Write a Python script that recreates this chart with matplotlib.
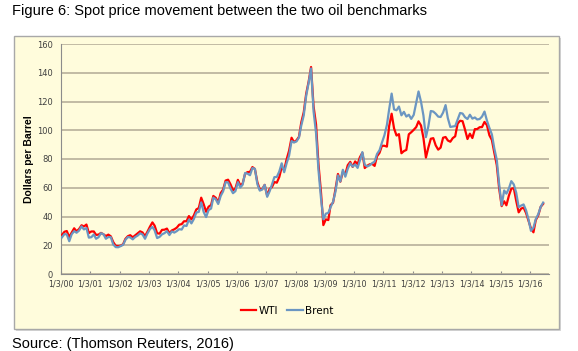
import datetime as dt

import matplotlib
matplotlib.use("Agg")
import matplotlib.pyplot as plt
import matplotlib.dates as mdates
from matplotlib.patches import Rectangle

# monthly readings (mid-month), Jan 2000 .. Jun 2016, USD per barrel
wti = [
    27.2, 29.4, 29.9, 25.7, 28.8, 31.8, 29.7, 31.3, 33.9, 33.1, 34.4, 28.5,  # 2000
    29.6, 29.6, 27.2, 27.4, 28.6, 27.6, 26.4, 27.4, 26.2, 22.2, 19.6, 19.4,  # 2001
    19.7, 20.7, 24.4, 26.3, 27.0, 25.5, 26.9, 28.4, 29.7, 28.9, 26.3, 29.4,  # 2002
    32.9, 35.9, 33.6, 28.3, 28.1, 30.7, 30.8, 31.6, 28.3, 30.3, 31.1, 32.2,  # 2003
    34.3, 34.7, 36.7, 36.7, 40.3, 38.0, 40.7, 44.9, 45.9, 53.1, 48.5, 43.3,  # 2004
    46.8, 48.0, 54.3, 53.0, 49.8, 56.3, 58.7, 65.0, 65.6, 62.4, 58.3, 59.4,  # 2005
    65.5, 61.6, 62.9, 69.7, 70.9, 71.0, 74.4, 73.0, 63.8, 58.9, 59.1, 62.0,  # 2006
    54.5, 59.3, 60.4, 64.0, 63.5, 67.5, 74.1, 72.4, 79.9, 85.8, 94.8, 91.7,  # 2007
    93.0, 95.4, 105.5, 112.6, 125.4, 133.9, 144.0, 116.7, 104.1, 76.6, 57.3, 34.0,  # 2008
    38.0, 37.5, 47.9, 49.6, 59.0, 69.6, 64.2, 71.1, 69.4, 75.7, 78.0, 74.5,  # 2009
    78.3, 76.4, 81.2, 84.3, 73.7, 75.3, 76.3, 76.6, 75.2, 81.9, 84.3, 89.2,  # 2010
    89.2, 88.6, 102.9, 111.5, 101.3, 96.3, 97.3, 84.0, 85.5, 86.3, 97.2, 98.6,  # 2011
    100.3, 102.2, 106.2, 103.3, 94.7, 81.0, 87.9, 94.1, 94.5, 89.5, 86.5, 87.9,  # 2012
    94.8, 95.3, 92.9, 92.0, 94.5, 95.8, 104.6, 106.6, 106.3, 100.5, 93.9, 97.6,  # 2013
    94.6, 100.8, 100.8, 102.1, 102.2, 105.8, 103.6, 96.5, 93.2, 84.4, 75.8, 59.3,  # 2014
    47.2, 50.6, 47.8, 54.5, 59.3, 59.8, 50.9, 42.9, 45.5, 46.2, 42.4, 37.2,  # 2015
    31.7, 29.0, 37.5, 40.8, 46.7, 48.8,  # 2016
]
brent = [
    25.5, 27.8, 27.5, 22.8, 27.6, 29.8, 28.7, 30.2, 33.1, 31.0, 32.0, 25.3,  # 2000
    25.6, 27.5, 24.5, 25.6, 28.4, 27.7, 24.5, 25.7, 25.6, 20.5, 18.7, 18.6,  # 2001
    19.4, 20.3, 23.7, 25.7, 25.4, 24.1, 25.7, 26.7, 28.3, 27.5, 24.5, 28.2,  # 2002
    31.2, 32.8, 30.3, 25.0, 25.8, 27.6, 28.4, 29.8, 27.1, 29.6, 28.8, 29.8,  # 2003
    31.2, 30.9, 33.8, 33.4, 37.9, 35.2, 38.2, 42.7, 43.2, 49.8, 43.1, 39.6,  # 2004
    44.5, 45.5, 53.1, 51.9, 48.7, 54.3, 57.5, 63.9, 63.7, 59.4, 56.2, 57.6,  # 2005
    63.9, 60.2, 62.1, 70.3, 69.8, 68.7, 73.7, 73.2, 62.5, 58.0, 58.8, 62.0,  # 2006
    53.7, 57.6, 62.1, 67.4, 67.5, 71.3, 77.0, 70.8, 77.2, 82.3, 92.5, 91.5,  # 2007
    92.2, 94.9, 103.3, 110.4, 123.9, 133.1, 143.0, 113.2, 98.0, 72.5, 53.0, 38.0,  # 2008
    42.0, 42.5, 46.5, 50.2, 57.3, 68.6, 64.4, 72.5, 67.7, 73.2, 77.0, 74.7,  # 2009
    76.2, 73.8, 78.8, 84.8, 75.9, 74.8, 75.6, 77.1, 78.2, 83.5, 86.1, 91.4,  # 2010
    96.5, 103.7, 114.6, 125.5, 114.5, 113.9, 116.5, 110.4, 112.8, 109.5, 110.8, 107.9,  # 2011
    110.7, 119.3, 127.0, 119.8, 110.3, 95.2, 102.6, 113.4, 113.0, 111.5, 109.5, 109.2,  # 2012
    112.3, 117.5, 108.5, 102.3, 102.6, 102.9, 107.4, 112.0, 111.6, 109.1, 107.8, 110.8,  # 2013
    108.1, 108.9, 107.5, 107.8, 109.5, 113.0, 106.8, 101.6, 97.1, 87.4, 79.4, 62.3,  # 2014
    47.8, 58.1, 55.9, 59.5, 64.6, 62.3, 56.6, 46.5, 47.6, 48.4, 44.3, 38.0,  # 2015
    30.0, 32.2, 38.2, 41.6, 46.7, 49.7,  # 2016
]
dates = [dt.date(2000 + i // 12, i % 12 + 1, 15) for i in range(len(wti))]
tick_dates = [dt.date(y, 1, 3) for y in range(2000, 2017)]
tick_labels = [d.strftime("1/3/%y") for d in tick_dates]
y_ticks = list(range(0, 161, 20))

CREAM = "#fffcdc"
GRID = "#b8b09a"

fig = plt.figure(figsize=(5.78, 3.51), dpi=100)
fig.patch.set_facecolor("white")

# chart panel with border + soft shadow
fig.patches.append(Rectangle((16 / 578, 1 - 331 / 351), 545 / 578, 293 / 351,
                             transform=fig.transFigure, facecolor="#d8d8d8",
                             edgecolor="none", zorder=-2))
fig.patches.append(Rectangle((14 / 578, 1 - 329 / 351), 545 / 578, 293 / 351,
                             transform=fig.transFigure, facecolor=CREAM,
                             edgecolor="#a8a8a8", linewidth=1.0, zorder=-1))

ax = fig.add_axes([61 / 578, 1 - 274 / 351, 488 / 578, 230 / 351])
ax.set_zorder(2)
ax.set_facecolor(CREAM)
ax.patch.set_alpha(0)

ax.plot(dates, wti, color="#ff0000", linewidth=1.6, label="WTI", zorder=3)
ax.plot(dates, brent, color="#6b96c2", linewidth=1.6, label="Brent", zorder=4)

x0 = mdates.date2num(dt.date(2000, 1, 3))
px_year = (mdates.date2num(dt.date(2016, 1, 3)) - x0) / (530 - 61)
ax.set_xlim(x0, x0 + px_year * (549 - 61))
ax.set_ylim(0, 160)
ax.set_yticks(y_ticks)
ax.set_xticks(tick_dates)
ax.set_xticklabels(tick_labels)
ax.yaxis.grid(True, color=GRID, linewidth=1.2)
ax.set_axisbelow(True)
for s in ("top", "right"):
    ax.spines[s].set_visible(False)
ax.spines["left"].set_color("#8c8c8c")
ax.spines["bottom"].set_color("#8c8c8c")
ax.tick_params(axis="y", length=0, pad=6, labelsize=6, labelcolor="#404040")
ax.tick_params(axis="x", length=2.5, direction="in", color="#8c8c8c",
               pad=4, labelsize=5.8, labelcolor="#404040")
for lab in ax.get_xticklabels() + ax.get_yticklabels():
    lab.set_family(["Liberation Sans Narrow", "DejaVu Sans"])

ax.set_ylabel("Dollars per Barrel", fontsize=7.5, fontweight="bold",
              labelpad=2, family=["Liberation Sans", "DejaVu Sans"])

ax.legend(loc="center", bbox_to_anchor=(287 / 578, 1 - 311 / 351),
          bbox_transform=fig.transFigure, ncol=2, frameon=False,
          handlelength=1.5, handletextpad=0.2, columnspacing=0.9,
          prop={"family": ["Liberation Sans Narrow", "DejaVu Sans"], "size": 7.5})

fig.text(12 / 578, 1 - 11 / 351,
         "Figure 6: Spot price movement between the two oil benchmarks",
         fontsize=10.5, va="center", ha="left", family=["Liberation Sans", "DejaVu Sans"])
fig.text(12 / 578, 1 - 344 / 351, "Source: (Thomson Reuters, 2016)",
         fontsize=10.5, va="center", ha="left", family=["Liberation Sans", "DejaVu Sans"])

fig.savefig("out.png", dpi=100)
